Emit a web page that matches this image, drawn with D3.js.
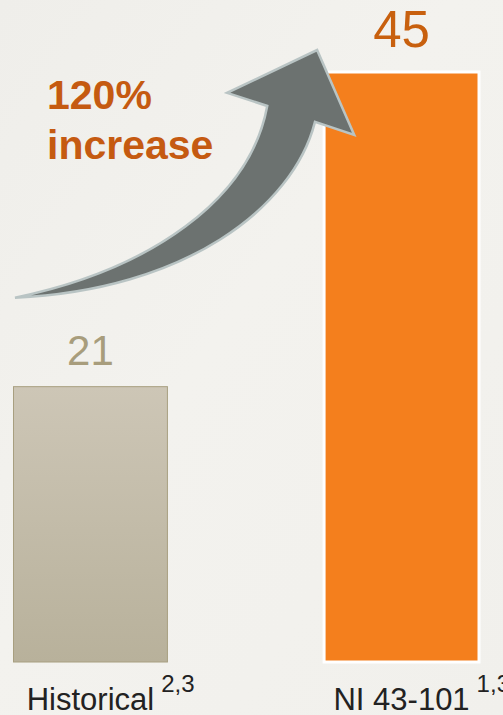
<!DOCTYPE html>
<html>
<head>
<meta charset="utf-8">
<script src="https://cdn.jsdelivr.net/npm/d3@7"></script>
<style>
  html, body { margin: 0; padding: 0; background: #f2f1ed; overflow: hidden; }
  svg { display: block; font-family: "Liberation Sans", Arial, sans-serif; }
</style>
</head>
<body>
<div id="chart"></div>
<script>
const categories = ["Historical", "NI 43-101"]
const values = [21, 45]
const footnotes = ["2,3", "1,3"]
const increase_label = ["120%", "increase"]

const width = 503
const height = 715

const svg = d3.select("#chart")
  .append("svg")
  .attr("width", width)
  .attr("height", height)

const defs = svg.append("defs")

// soft diagonal sheen on the background
const bg = defs.append("linearGradient")
  .attr("id", "bg_grad")
  .attr("x1", "0").attr("y1", "0").attr("x2", "1").attr("y2", "1")
bg.append("stop").attr("offset", "0%").attr("stop-color", "#efeeea")
bg.append("stop").attr("offset", "45%").attr("stop-color", "#f3f2ee")
bg.append("stop").attr("offset", "100%").attr("stop-color", "#f1f0ec")

const hist = defs.append("linearGradient")
  .attr("id", "hist_grad")
  .attr("x1", "0").attr("y1", "0").attr("x2", "0").attr("y2", "1")
hist.append("stop").attr("offset", "0%").attr("stop-color", "#cdc6b6")
hist.append("stop").attr("offset", "100%").attr("stop-color", "#b8b19b")

svg.append("rect")
  .attr("width", width)
  .attr("height", height)
  .attr("fill", "url(#bg_grad)")

var x = d3.scaleBand()
  .domain(categories)
  .range([13, 479])
  .paddingInner(0.502)
  .paddingOuter(0)

var y = d3.scaleLinear()
  .domain([0, 45])
  .range([662, 72])

const bar_fill = ["url(#hist_grad)", "#f47f1d"]
const bar_stroke = ["#a89f80", "#ffffff"]
const bar_stroke_w = [1, 3]
const value_color = ["#a89d7c", "#c8600e"]
const value_size = [42, 51]
const value_gap = [22, 25]

const data = categories.map((c, i) => ({ cat: c, value: values[i], note: footnotes[i], i: i }))

// bars
svg.selectAll("rect.bar")
  .data(data)
  .enter()
  .append("rect")
    .attr("class", "bar")
    .attr("x", (d) => x(d.cat) + (d.i ? 0 : 0.5))
    .attr("y", (d) => y(d.value))
    .attr("width", (d) => x.bandwidth() - (d.i ? 0 : 1))
    .attr("height", (d) => y(0) - y(d.value))
    .attr("fill", (d) => bar_fill[d.i])
    .attr("stroke", (d) => bar_stroke[d.i])
    .attr("stroke-width", (d) => bar_stroke_w[d.i])

// value labels
svg.selectAll("text.value")
  .data(data)
  .enter()
  .append("text")
    .attr("class", "value")
    .attr("x", (d) => x(d.cat) + x.bandwidth() / 2)
    .attr("y", (d) => y(d.value) - value_gap[d.i])
    .attr("text-anchor", "middle")
    .attr("font-size", (d) => value_size[d.i])
    .attr("fill", (d) => value_color[d.i])
    .text((d) => d.value)

// category labels with superscript footnotes
const cat_labels = svg.selectAll("g.cat")
  .data(data)
  .enter()
  .append("g")
    .attr("class", "cat")

cat_labels.append("text")
  .attr("class", "cat_main")
  .attr("x", (d) => x(d.cat) + x.bandwidth() / 2)
  .attr("y", 710)
  .attr("text-anchor", "middle")
  .attr("font-size", 31)
  .attr("fill", "#222222")
  .text((d) => d.cat)

cat_labels.each(function(d) {
  const g = d3.select(this)
  const main = g.select("text.cat_main").node()
  const w = main.getComputedTextLength()
  g.append("text")
    .attr("x", x(d.cat) + x.bandwidth() / 2 + w / 2 + 7)
    .attr("y", 692)
    .attr("font-size", 24)
    .attr("fill", "#222222")
    .text(d.note)
})

// curved arrow from the historical bar up to the NI 43-101 bar
const tail = [x(categories[0]) + 2, y(values[0]) - 89]
const tip = [x(categories[1]) - 7, y(values[1]) - 22]
const dx = tip[0] - tail[0]
const dy = tip[1] - tail[1]
// shape points as fractions of the tail→tip span
const P = (u, v) => [tail[0] + u * dx, tail[1] + v * dy]
const shape = {
  upper_c1: P(0.447, 0.113),
  upper_c2: P(0.778, 0.395),
  notch_l: P(0.835, 0.774),
  barb_l: P(0.702, 0.827),
  barb_r: P(1.123, 0.657),
  notch_r: P(0.993, 0.710),
  lower_c1: P(0.92, 0.36),
  lower_c2: P(0.56, 0.03)
}
const p = d3.path()
p.moveTo(tail[0], tail[1])
p.bezierCurveTo(shape.upper_c1[0], shape.upper_c1[1], shape.upper_c2[0], shape.upper_c2[1], shape.notch_l[0], shape.notch_l[1])
p.lineTo(shape.barb_l[0], shape.barb_l[1])
p.lineTo(tip[0], tip[1])
p.lineTo(shape.barb_r[0], shape.barb_r[1])
p.lineTo(shape.notch_r[0], shape.notch_r[1])
p.bezierCurveTo(shape.lower_c1[0], shape.lower_c1[1], shape.lower_c2[0], shape.lower_c2[1], tail[0], tail[1])
p.closePath()

svg.append("path")
  .attr("d", p.toString())
  .attr("fill", "#6c7270")
  .attr("stroke", "#b9c4c4")
  .attr("stroke-width", 2.5)
  .attr("stroke-linejoin", "miter")

// increase annotation
svg.selectAll("text.increase")
  .data(increase_label)
  .enter()
  .append("text")
    .attr("class", "increase")
    .attr("x", 47)
    .attr("y", (d, i) => 109 + i * 50)
    .attr("font-size", 41)
    .attr("font-weight", "bold")
    .attr("fill", "#c55a11")
    .text((d) => d)
</script>
</body>
</html>
